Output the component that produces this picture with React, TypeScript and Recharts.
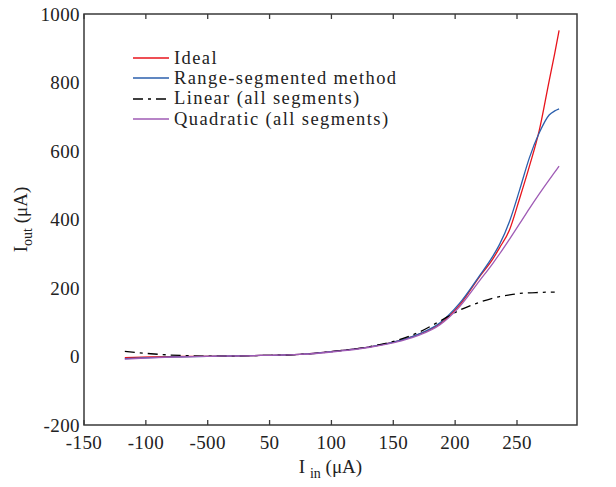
import React from "react";
import { LineChart, Line, XAxis, YAxis, ReferenceArea } from "recharts";

// x positions in axis-tick units (tick i sits at i)
const xPositions = [0.66, 1.08, 1.56, 2.2, 2.85, 3.49, 4.14, 4.62, 5.11, 5.43, 5.75, 6.07, 6.39, 6.61, 6.72, 6.88, 7.04, 7.2, 7.36, 7.52, 7.61, 7.68];
const xTicks = [0, 1, 2, 3, 4, 5, 6, 7];
const xTickLabels = ["-150", "-100", "-500", "50", "100", "150", "200", "250"];
const yTicks = [-200, 0, 200, 400, 600, 800, 1000];

const ideal = [-3, -1, 0, 1, 3, 6, 17, 28, 47, 66, 95, 150, 232, 285, 318, 370, 460, 555, 660, 805, 885, 952];
const rangeSegmented = [-6, -3, -1, 1, 3, 6, 17, 28, 47, 67, 98, 155, 235, 293, 328, 395, 485, 580, 653, 705, 717, 723];
const linearAll = [15, 8, 3, 1, 3, 6, 17, 29, 50, 72, 103, 135, 158, 170, 175, 180, 184, 186, 187, 188, 188, null];
const quadraticAll = [-8, -4, -1, 1, 3, 6, 16, 27, 45, 63, 92, 145, 220, 272, 300, 343, 387, 432, 475, 516, 538, 556];

const seriesNames = ["Ideal", "Range-segmented method", "Linear (all segments)", "Quadratic (all segments)"];

const data = xPositions.map((x, i) => ({
  x,
  ideal: ideal[i],
  range: rangeSegmented[i],
  linear: linearAll[i],
  quad: quadraticAll[i],
}));

const FONT = "'Liberation Serif', 'Times New Roman', serif";
const AXIS = "#3a3a3a";
const DASH = "10 5 3 5";
const X_DOMAIN: [number, number] = [0, 7.97];
const Y_DOMAIN: [number, number] = [-200, 1000];

const series = [
  { key: "ideal", name: seriesNames[0], color: "#e8141c", dash: undefined as string | undefined },
  { key: "range", name: seriesNames[1], color: "#2b5fad", dash: undefined as string | undefined },
  { key: "linear", name: seriesNames[2], color: "#000000", dash: DASH },
  { key: "quad", name: seriesNames[3], color: "#9f5bb5", dash: undefined as string | undefined },
];

const tickStyle = { fontFamily: FONT, fontSize: 19, fill: "#222", letterSpacing: 0.4 };
const tickLineStyle = { stroke: AXIS, strokeWidth: 1.3 };

const XLabel = (props: any) => {
  const vb = props.viewBox || {};
  const cx = vb.x + vb.width / 2;
  return (
    <text x={cx} y={vb.y + 48} textAnchor="middle" fontFamily={FONT} fontSize={19} fill="#222">
      <tspan>I </tspan>
      <tspan dy={5} fontSize={14}>in</tspan>
      <tspan dy={-5}> (μA)</tspan>
    </text>
  );
};

const YLabel = (props: any) => {
  const vb = props.viewBox || {};
  const cy = vb.y + vb.height / 2;
  const bx = 27;
  return (
    <text x={bx} y={cy} textAnchor="middle" fontFamily={FONT} fontSize={19} fill="#222" transform={`rotate(-90, ${bx}, ${cy})`}>
      <tspan>I</tspan>
      <tspan dy={5} fontSize={14}>out</tspan>
      <tspan dy={-5}> (μA)</tspan>
    </text>
  );
};

const empty = () => "";

export default function App() {
  return (
    <div style={{ position: "absolute", left: 0, top: 0, width: 616, height: 487, background: "#fff" }}>
      <LineChart width={616} height={487} data={data} margin={{ top: 14, right: 39, bottom: 32, left: 24 }}>
        <XAxis
          xAxisId="b"
          dataKey="x"
          type="number"
          domain={X_DOMAIN}
          ticks={xTicks}
          tickFormatter={(v: number) => xTickLabels[v] ?? ""}
          tick={tickStyle}
          tickLine={false}
          axisLine={false}
          tickSize={0}
          tickMargin={11}
          height={30}
          interval={0}
          allowDataOverflow
          label={<XLabel />}
        />
        <XAxis xAxisId="bm" orientation="bottom" mirror dataKey="x" type="number" domain={X_DOMAIN} ticks={xTicks}
          tickFormatter={empty} tickSize={5} tickLine={tickLineStyle} axisLine={false} interval={0} allowDataOverflow />
        <XAxis xAxisId="tm" orientation="top" mirror dataKey="x" type="number" domain={X_DOMAIN} ticks={xTicks}
          tickFormatter={empty} tickSize={5} tickLine={tickLineStyle} axisLine={false} interval={0} allowDataOverflow />
        <YAxis
          yAxisId="l"
          type="number"
          domain={Y_DOMAIN}
          ticks={yTicks}
          tick={tickStyle}
          tickLine={false}
          axisLine={false}
          tickSize={0}
          tickMargin={4}
          width={60}
          interval={0}
          label={<YLabel />}
        />
        <YAxis yAxisId="lm" orientation="left" mirror type="number" domain={Y_DOMAIN} ticks={yTicks}
          tickFormatter={empty} tickSize={5} tickLine={tickLineStyle} axisLine={false} interval={0} />
        <YAxis yAxisId="rm" orientation="right" mirror type="number" domain={Y_DOMAIN} ticks={yTicks}
          tickFormatter={empty} tickSize={5} tickLine={tickLineStyle} axisLine={false} interval={0} />
        <ReferenceArea xAxisId="b" yAxisId="l" x1={X_DOMAIN[0]} x2={X_DOMAIN[1]} y1={Y_DOMAIN[0]} y2={Y_DOMAIN[1]}
          fill="none" fillOpacity={0} stroke={AXIS} strokeWidth={1.5} strokeOpacity={1} ifOverflow="visible" />
        {series.map((s) => (
          <Line
            key={s.key}
            xAxisId="b"
            yAxisId="l"
            type="monotone"
            dataKey={s.key}
            name={s.name}
            stroke={s.color}
            strokeWidth={1.3}
            strokeDasharray={s.dash}
            dot={false}
            connectNulls={false}
            isAnimationActive={false}
          />
        ))}
      </LineChart>
      <div style={{ position: "absolute", left: 133, top: 48, fontFamily: FONT, fontSize: 18.5, color: "#222" }}>
        {series.map((s) => (
          <div key={s.key} style={{ height: 20.3, display: "flex", alignItems: "center", whiteSpace: "nowrap" }}>
            <svg width={36} height={20} style={{ marginRight: 5 }}>
              <line x1={0} y1={10} x2={36} y2={10} stroke={s.color} strokeWidth={1.3} strokeDasharray={s.dash} />
            </svg>
            <span style={{ letterSpacing: 1.4 }}>{s.name}</span>
          </div>
        ))}
      </div>
    </div>
  );
}
